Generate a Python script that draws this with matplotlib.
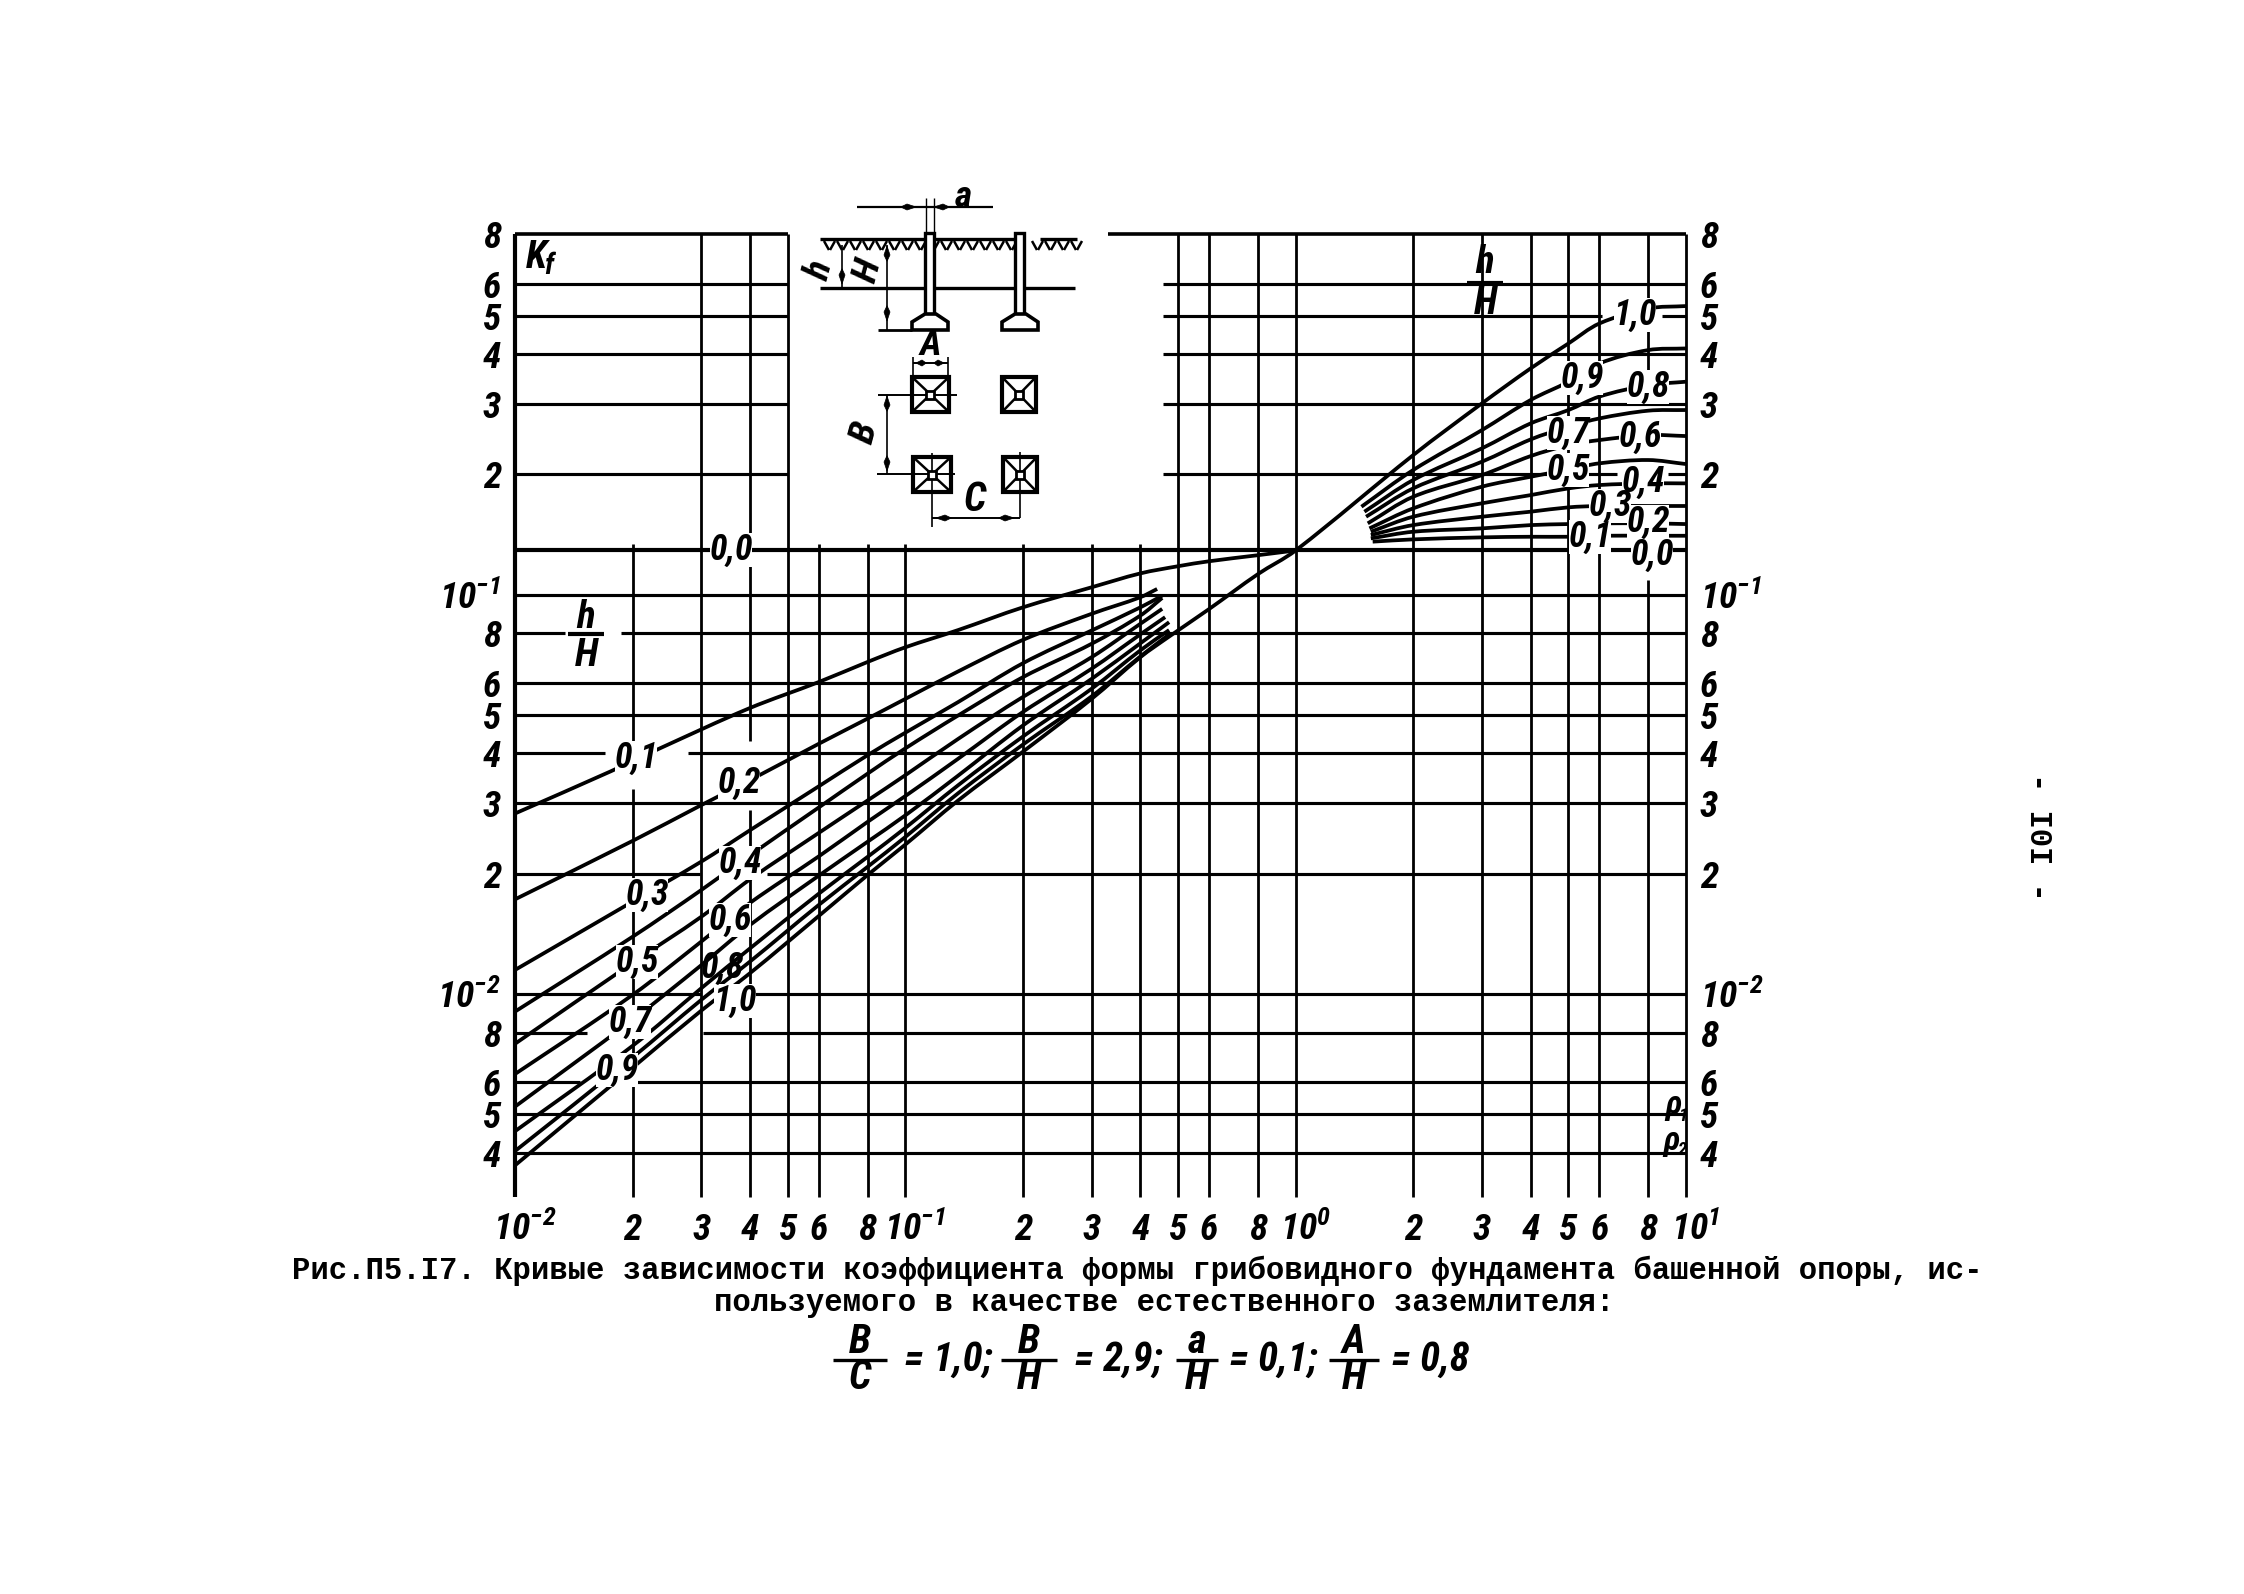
import matplotlib
matplotlib.use("Agg")
import matplotlib.pyplot as plt
from matplotlib.patches import Rectangle, Polygon, PathPatch
from matplotlib.path import Path
from matplotlib.ticker import NullLocator
from matplotlib.transforms import ScaledTranslation
from matplotlib import font_manager as fm
import numpy as np

W, H = 2244, 1594
avail = {f.name for f in fm.fontManager.ttflist}
NARROW = next((n for n in ['Liberation Sans Narrow', 'Noto Sans Condensed', 'Roboto Condensed',
                           'Open Sans Condensed'] if n in avail), None)
HAND = NARROW or 'Liberation Sans'
K = 1.22 if NARROW else 1.0   # text size factor, a narrow face can stand taller
plt.rcParams['font.family'] = [HAND, 'DejaVu Sans']
plt.rcParams['mathtext.fontset'] = 'custom'
plt.rcParams['mathtext.rm'] = f'{HAND}:italic:bold'
plt.rcParams['mathtext.it'] = f'{HAND}:italic:bold'
plt.rcParams['mathtext.default'] = 'it'

# ---- data -------------------------------------------------------------
x_ticks = [.01, .02, .03, .04, .05, .06, .08, .1, .2, .3, .4, .5, .6, .8, 1, 2, 3, 4, 5, 6, 8, 10]
x_labels = ['$10^{-2}$', '2', '3', '4', '5', '6', '8', '$10^{-1}$', '2', '3', '4', '5', '6', '8',
            '$10^{0}$', '2', '3', '4', '5', '6', '8', '$10^{1}$']
y_ticks = [.8, .6, .5, .4, .3, .2, .1, .08, .06, .05, .04, .03, .02, .01, .008, .006, .005, .004]
y_labels = ['8', '6', '5', '4', '3', '2', '$10^{-1}$', '8', '6', '5', '4', '3', '2', '$10^{-2}$',
            '8', '6', '5', '4']
y_zero_line = .129

x_01 = [.01, .0176, .0235, .0398, .06, .08, .1, .1365, .2, .3, .4, .5, .6, .8, 1]
y_01 = [.0283, .0361, .0412, .0519, .0604, .0678, .0738, .0815, .0929, .1043, .113, .1178, .1212, .1255, .129]

x_low = [.01, .02, .03, .04, .06, .08, .1, .1365, .2, .3, .4]
low_02 = [.01725, .02416, .0297, .0343, .0423, .0489, .0548, .0642, .0770, .0895, .0985]
low_03 = [.01148, .01702, .02144, .0257, .0331, .0396, .0451, .0538, .0673, .0813, .0929]
low_04 = [.00903, .0139, .0182, .02225, .0293, .0356, .0412, .0498, .0621, .0753, .0886]
low_05 = [.0075, .01196, .0156, .01936, .0253, .0305, .0353, .0435, .0554, .0697, .0845]
low_06 = [.0063, .00994, .01352, .0169, .0221, .02696, .0313, .0388, .0508, .0652, .0795]
low_07 = [.00522, .00861, .0118, .01488, .01977, .02404, .028, .0352, .047, .0615, .0755]
low_08 = [.00453, .00741, .01033, .013, .01782, .02203, .02604, .0333, .0441, .0581, .0725]
low_09 = [.00404, .00693, .00966, .01205, .0167, .0208, .02472, .0318, .0421, .0556, .070]
low_end_x = [.4416, .455, .455, .455, .463, .474, .474, .474]
low_end_y = [.1033, .0994, .0981, .0921, .0878, .0853, .0815, .0795]

x_10 = [.01, .02, .03, .04, .06, .08, .1, .1365, .2, .3, .4, .474, .6, .8, 1, 2, 3, 4, 5, 6, 8, 10]
y_10 = [.00372, .00653, .00908, .01127, .01567, .01984, .02366, .0305, .0404, .0548, .0697, .0785,
        .092, .1125, .129, .2235, .3012, .3686, .4256, .4775, .5207, .528]

x_up = [2, 3, 4, 5, 6, 8, 10]
up_start_x = [1.474, 1.50, 1.515, 1.53, 1.545, 1.558, 1.558, 1.558, 1.575]
up_start_y = [.166, .1613, .1567, .1508, .1465, .1437, .141, .1383, .1357]
up_09 = [.2051, .2582, .3072, .3413, .3793, .4096, .4135]
up_08 = [.1936, .2324, .2684, .2899, .3133, .3347, .3413]
up_07 = [.1845, .2152, .2447, .2633, .2762, .2888, .2899]
up_06 = [.1758, .1992, .2223, .2368, .2438, .2509, .2495]
up_05 = [.1644, .1863, .1973, .2058, .2132, .2173, .2123]
up_04 = [.1567, .1693, .1775, .1845, .1881, .1899, .1899]
up_03 = [.1493, .1567, .1613, .1654, .1667, .1667, .1667]
up_02 = [.1437, .1465, .1493, .1502, .1508, .1508, .1502]
up_01 = [.1375, .1391, .1396, .1396, .1404, .1404, .1404]

# ---- layout -----------------------------------------------------------
L, R, T, B = 515, 1686, 234, 1197
fig = plt.figure(figsize=(W / 100, H / 100), dpi=100, facecolor='white')
ax = fig.add_axes([L / W, 1 - B / H, (R - L) / W, (B - T) / H])
ax.set_xscale('log'); ax.set_yscale('log')
ax.set_xlim(.01, 10); ax.set_ylim(.0031, .8)
for s in ax.spines.values():
    s.set_visible(False)
ax.patch.set_visible(False)
ax.set_xticks(x_ticks); ax.set_xticklabels(x_labels)
ax.set_yticks(y_ticks); ax.set_yticklabels(y_labels)
ax.xaxis.set_minor_locator(NullLocator()); ax.yaxis.set_minor_locator(NullLocator())
ax.tick_params(axis='both', which='both', length=0, labelsize=22 * K)
ax.tick_params(axis='x', pad=11)
ax.tick_params(axis='y', labelleft=True, labelright=True, pad=10)
for t in ax.get_xticklabels() + ax.get_yticklabels() + [m.label2 for m in ax.yaxis.get_major_ticks()]:
    t.set_style('italic'); t.set_weight('bold')
for t, s in zip(ax.get_xticklabels(), x_labels):
    if s.startswith('$'):
        t.set_transform(t.get_transform() + ScaledTranslation(10 / 100, 0, fig.dpi_scale_trans))

# grid, with the breaks that the drawing has
LOW, TOP = .0031, .8
h_segments = {
    .8: [(.01, .05), (.33, 10)], .6: [(.01, .05), (.457, 10)], .5: [(.01, .05), (.457, 6.1), (8.7, 10)],
    .4: [(.01, .05), (.457, 10)], .3: [(.01, .05), (.457, 10)], .2: [(.01, .05), (.457, 6.65), (9, 10)],
    .1: [(.01, 10)], .08: [(.01, .0134), (.0187, 10)], .06: [(.01, 10)], .05: [(.01, 10)],
    .04: [(.01, .017), (.0277, 10)], .03: [(.01, 10)], .02: [(.01, .0298), (.0442, 10)],
    .01: [(.01, .03), (.0412, 10)], .008: [(.01, .0153), (.0303, 10)], .006: [(.01, .0147), (.0199, 10)],
    .005: [(.01, 10)], .004: [(.01, 10)],
}
v_segments = {
    .01: [(LOW, TOP)], .02: [(LOW, .0326), (.0401, .134)], .03: [(LOW, TOP)],
    .04: [(LOW, .0289), (.043, TOP)], .05: [(LOW, TOP)], .06: [(LOW, .134)], .08: [(LOW, .134)],
    .1: [(LOW, .134)], .2: [(LOW, .134)], .3: [(LOW, .134)], .4: [(LOW, .134)], .5: [(LOW, TOP)],
    .6: [(LOW, TOP)], .8: [(LOW, TOP)], 1: [(LOW, TOP)], 2: [(LOW, TOP)], 3: [(LOW, TOP)],
    4: [(LOW, TOP)], 5: [(LOW, TOP)], 6: [(LOW, TOP)], 8: [(LOW, .1088), (.365, TOP)], 10: [(LOW, TOP)],
}
for y, segs in h_segments.items():
    for a, b in segs:
        ax.plot([a, b], [y, y], color='k', lw=2.6 if y == .8 else 2.25, solid_capstyle='butt', clip_on=False, zorder=2)
for x, segs in v_segments.items():
    for a, b in segs:
        ax.plot([x, x], [a, b], color='k', lw=3.0 if x == .01 else 2.0, solid_capstyle='butt', clip_on=False, zorder=2)
ax.plot([.01, 10], [y_zero_line, y_zero_line], color='k', lw=3.0, solid_capstyle='butt', zorder=3)


def curve(xs, ys):
    """Draw a smooth stroke through the read points (Bezier in log-log space)."""
    lx, ly = np.log10(xs), np.log10(ys)
    p = np.column_stack([lx, ly])
    verts, codes = [p[0]], [Path.MOVETO]
    for i in range(len(p) - 1):
        p0 = p[max(i - 1, 0)]; p1 = p[i]; p2 = p[i + 1]; p3 = p[min(i + 2, len(p) - 1)]
        h = np.hypot(*(p2 - p1))
        t1 = (p2 - p0); t1 = t1 / np.hypot(*t1) * h / 3
        t2 = (p3 - p1); t2 = t2 / np.hypot(*t2) * h / 3
        verts += [p1 + t1, p2 - t2, p2]
        codes += [Path.CURVE4] * 3
    path = Path(10 ** np.array(verts), codes)
    ax.add_patch(PathPatch(path, fc='none', ec='k', lw=2.7, capstyle='butt', joinstyle='round', zorder=3))


curve(x_01, y_01)
curve(x_10, y_10)
lows = [low_02, low_03, low_04, low_05, low_06, low_07, low_08, low_09]
for vals, ex, ey in zip(lows, low_end_x, low_end_y):
    curve(x_low + [ex], vals + [ey])
ups = [up_09, up_08, up_07, up_06, up_05, up_04, up_03, up_02, up_01]
for vals, sx, sy in zip(ups, up_start_x, up_start_y):
    curve([sx] + x_up, [sy] + vals)

# ---- overlay in page pixels: labels, inset sketch, caption --------------
ov = fig.add_axes([0, 0, 1, 1], zorder=5)
ov.set_xlim(0, W); ov.set_ylim(H, 0); ov.axis('off'); ov.patch.set_visible(False)


def lab(x, y, s, size=21, mask=True, rot=0):
    if mask:
        # white knock-out patch below the glyphs: the drawing breaks lines around its labels
        ov.add_patch(Rectangle((x - 21, y - 17), 42, 34, fc='white', ec='none', zorder=6))
    ov.text(x, y, s, color='k', zorder=7, fontsize=size * K, style='italic', weight='bold',
            ha='center', va='center', rotation=rot)


def seg(x0, y0, x1, y1, lw=1.6):
    ov.plot([x0, x1], [y0, y1], color='k', lw=lw, solid_capstyle='butt', zorder=7)


def arrow(x, y, dx, dy, n=9, w=3):
    px, py = -dy, dx
    ov.add_patch(Polygon([(x + dx * n, y + dy * n), (x + px * w, y + py * w),
                          (x - dx * n * .7, y - dy * n * .7), (x - px * w, y - py * w)],
                         closed=True, fc='k', ec='k', lw=.5, zorder=7))


for x, y, s in [(636, 758, '0,1'), (739, 783, '0,2'), (647, 895, '0,3'), (740, 863, '0,4'),
                (637, 962, '0,5'), (730, 920, '0,6'), (630, 1022, '0,7'), (617, 1070, '0,9'),
                (735, 1001, '1,0'), (731, 550, '0,0'),
                (1635, 315, '1,0'), (1582, 378, '0,9'), (1648, 387, '0,8'), (1568, 433, '0,7'),
                (1640, 437, '0,6'), (1568, 470, '0,5'), (1643, 482, '0,4'), (1610, 506, '0,3'),
                (1648, 522, '0,2'), (1590, 537, '0,1'), (1652, 555, '0,0')]:
    lab(x, y, s)
lab(722, 968, '0,8', mask=False)
lab(536, 257, 'K', mask=False, size=23)
lab(549, 266, 'f', mask=False, size=17)

# h/H fractions
for cx, bar, hy, Hy in [(586, 634, 617, 655), (1485, 283, 262, 303)]:
    lab(cx, hy, 'h', mask=False, size=23)
    lab(cx, Hy, 'H', mask=False, size=23)
    seg(cx - 18, bar, cx + 18, bar, lw=3)

# rho marks at lower right
lab(1673, 1105, 'ρ', size=20, mask=False); lab(1684, 1116, '1', size=11, mask=False)
lab(1671, 1141, 'ρ', size=20, mask=False); lab(1682, 1150, '2', size=11, mask=False)

# sketch of the footing
seg(857, 207, 993, 207); arrow(907, 207, 1, 0); arrow(943, 207, -1, 0)
seg(926, 198, 926, 233, 1); seg(934, 198, 934, 233, 1)
seg(820, 239, 1021, 239, 2.4); seg(1040, 239, 1077, 239, 2.4)
for i in range(20):
    hx = 824 + i * 13
    if 1010 < hx < 1030:
        continue
    seg(hx, 241, hx + 5, 250, 1.8); seg(hx + 11, 241, hx + 6, 250, 1.8)
seg(820, 288, 1075, 288, 2.4)
for px in (926, 1016):
    ov.add_patch(Rectangle((px - 1, 233), 9, 82, fc='white', ec='k', lw=2.4, zorder=8))
seg(878, 330, 912, 330, 2)
for fx in (912, 1002):
    ov.add_patch(Polygon([(fx, 330), (fx, 322), (fx + 13, 314), (fx + 24, 314), (fx + 36, 322), (fx + 36, 330)],
                         closed=True, fc='white', ec='k', lw=2.6, zorder=8))
    seg(fx + 10, 318, fx + 26, 318, 3)
seg(887, 245, 887, 330, 1.2); arrow(887, 255, 0, -1); arrow(887, 312, 0, 1)
seg(842, 245, 842, 288, 1.2); arrow(842, 275, 0, 1)
lab(820, 271, 'h', size=22, mask=False, rot=75)
lab(868, 271, 'H', size=22, mask=False, rot=75)
lab(963, 197, 'a', size=22, mask=False)
lab(930, 345, 'A', size=22, mask=False)
seg(913, 363, 948, 363, 1.4); arrow(922, 363, -1, 0, 6); arrow(938, 363, 1, 0, 6)
seg(913, 357, 913, 378, 1.2); seg(948, 357, 948, 378, 1.2)
for sx, sy, sw in [(912, 377, 37), (1002, 377, 34), (913, 457, 38), (1003, 457, 34)]:
    ov.add_patch(Rectangle((sx, sy), sw, 35, fc='white', ec='k', lw=3, zorder=7))
    cx, cy = sx + sw / 2, sy + 17.5
    seg(sx, sy, sx + sw, sy + 35, 1.8); seg(sx + sw, sy, sx, sy + 35, 1.8)
    ov.add_patch(Rectangle((cx - 4, cy - 4), 8, 8, fc='white', ec='k', lw=2, zorder=8))
seg(878, 395, 957, 395, 1.4); seg(877, 474, 955, 474, 1.4)
seg(887, 395, 887, 474, 1.2); arrow(887, 405, 0, -1); arrow(887, 462, 0, 1)
lab(865, 433, 'B', size=22, mask=False, rot=75)
seg(932, 453, 932, 527, 1.2); seg(1020, 452, 1020, 518, 1.2); seg(932, 518, 1020, 518, 1.4)
arrow(945, 518, -1, 0); arrow(1005, 518, 1, 0)
lab(975, 500, 'C', size=24, mask=False)

# caption
CAP = dict(family='Liberation Mono', fontsize=22.1, weight='bold', va='center')
ov.text(292, 1271, 'Рис.П5.I7. Кривые зависимости коэффициента формы грибовидного фундамента башенной опоры, ис-', ha='left', **CAP)
ov.text(1164, 1303, 'пользуемого в качестве естественного заземлителя:', ha='center', **CAP)
ov.text(2038, 837, '- I0I -', rotation=-90, ha='center', family='Liberation Mono', fontsize=22, weight='bold', va='center')

# formula under the caption
for cx, top, bot, half, after_x, txt in [(860, 'B', 'C', 27, 948, '= 1,0;'), (1029, 'B', 'H', 28, 1118, '= 2,9;'),
                                         (1197, 'a', 'H', 21, 1273, '= 0,1;'), (1354, 'A', 'H', 25, 1430, '= 0,8')]:
    lab(cx, 1342, top, size=24, mask=False)
    lab(cx, 1378, bot, size=24, mask=False)
    seg(cx - half, 1360, cx + half, 1360, 2.4)
    lab(after_x, 1360, txt, size=24, mask=False)

fig.savefig('out.png', dpi=100, facecolor='white')
